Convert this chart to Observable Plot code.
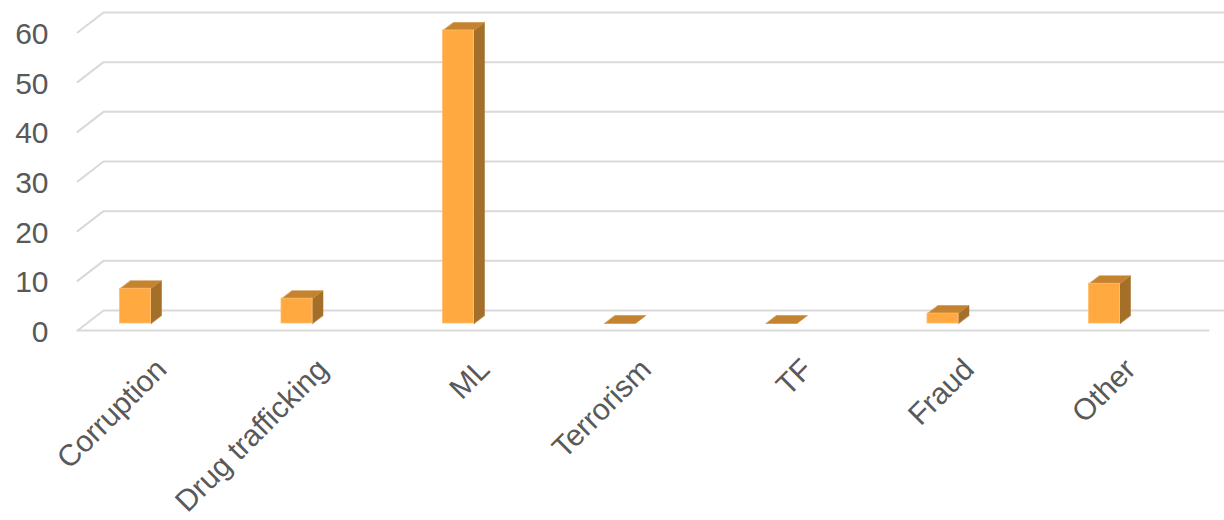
<!DOCTYPE html>
<html>
<head>
<meta charset="utf-8">
<script src="https://cdn.jsdelivr.net/npm/d3@7"></script>
<script src="https://cdn.jsdelivr.net/npm/@observablehq/plot@0.6"></script>
<style>
  html, body { margin: 0; padding: 0; background: #fff; }
  #chart svg { display: block; font-family: "Liberation Sans", Arial, sans-serif; }
</style>
</head>
<body>
<div id="chart"></div>
<script>
// ---- data ----
const categories = ["Corruption", "Drug trafficking", "ML", "Terrorism", "TF", "Fraud", "Other"];
const values = [7, 5, 59, 0, 0, 2, 8];
const yTicks = [0, 10, 20, 30, 40, 50, 60];

// ---- layout / style ----
const W = 1224, H = 520, MT = 12, MB = 210;
const xDomain = [-0.836, 6.743];
const yDomain = [0, 60];
const ux = (xDomain[1] - xDomain[0]) / W;           // index units per pixel
const uy = (yDomain[1] - yDomain[0]) / (H - MB - MT); // value units per pixel
const floorLeft = -0.359, floorRight = 6.644;       // category-index units (front edge)
const floorDX = 26 * ux, floorDY = 20 * uy;         // full floor depth
const barHalf = 15.5 * ux, barDX = 10.5 * ux, barDY = 8 * uy;
const barBase = -13 * uy;                           // front face bottom (middle depth)
const colFront = "#FFA940", colTop = "#C6832F", colSide = "#A36F29";
const gridCol = "#D9D9D9", textCol = "#595959";
const fontSize = 30;

const rows = categories.map((c, i) => ({c, i, v: values[i]}));

// gridlines on back wall + left wall diagonal
const grid = yTicks.flatMap(t => [
  {t, x: floorLeft, y: t - floorDY},
  {t, x: floorLeft + floorDX, y: t},
  {t, x: floorRight + floorDX, y: t}
]);
const floorFront = [
  {x: floorLeft, y: -floorDY},
  {x: floorRight, y: -floorDY}
];

const topFaces = rows.flatMap(d => {
  const top = barBase + d.v;
  return [
    {id: d.i, x: d.i - barHalf, y: top},
    {id: d.i, x: d.i + barHalf, y: top},
    {id: d.i, x: d.i + barHalf + barDX, y: top + barDY},
    {id: d.i, x: d.i - barHalf + barDX, y: top + barDY}
  ];
});
const sideFaces = rows.filter(d => d.v > 0).flatMap(d => {
  const top = barBase + d.v;
  return [
    {id: d.i, x: d.i + barHalf, y: barBase},
    {id: d.i, x: d.i + barHalf, y: top},
    {id: d.i, x: d.i + barHalf + barDX, y: top + barDY},
    {id: d.i, x: d.i + barHalf + barDX, y: barBase + barDY}
  ];
});

const chart = Plot.plot({
  width: W,
  height: H,
  marginTop: MT,
  marginBottom: MB,
  marginLeft: 0,
  marginRight: 0,
  x: {type: "linear", domain: xDomain, axis: null},
  y: {type: "linear", domain: yDomain, axis: null},
  marks: [
    Plot.line(grid, {x: "x", y: "y", z: "t", stroke: gridCol, strokeWidth: 2}),
    Plot.line(floorFront, {x: "x", y: "y", stroke: gridCol, strokeWidth: 2}),
    Plot.line(sideFaces, {x: "x", y: "y", z: "id", fill: colSide, stroke: colSide, strokeWidth: 0.5, curve: "linear-closed"}),
    Plot.line(topFaces, {x: "x", y: "y", z: "id", fill: colTop, stroke: colTop, strokeWidth: 0.5, curve: "linear-closed"}),
    Plot.rect(rows.filter(d => d.v > 0), {
      x1: d => d.i - barHalf, x2: d => d.i + barHalf,
      y1: barBase, y2: d => barBase + d.v,
      fill: colFront, stroke: "#FFBE6A", strokeWidth: 0.8
    }),
    Plot.text(yTicks, {
      x: floorLeft, y: d => d, text: d => String(d),
      textAnchor: "end", dx: -29, dy: 22, fontSize, fill: textCol
    }),
    Plot.text(rows, {
      x: "i", y: 0, text: "c", rotate: -45, textAnchor: "end",
      dx: 26, dy: 54, fontSize, fill: textCol
    })
  ]
});
document.getElementById("chart").append(chart);
</script>
</body>
</html>
